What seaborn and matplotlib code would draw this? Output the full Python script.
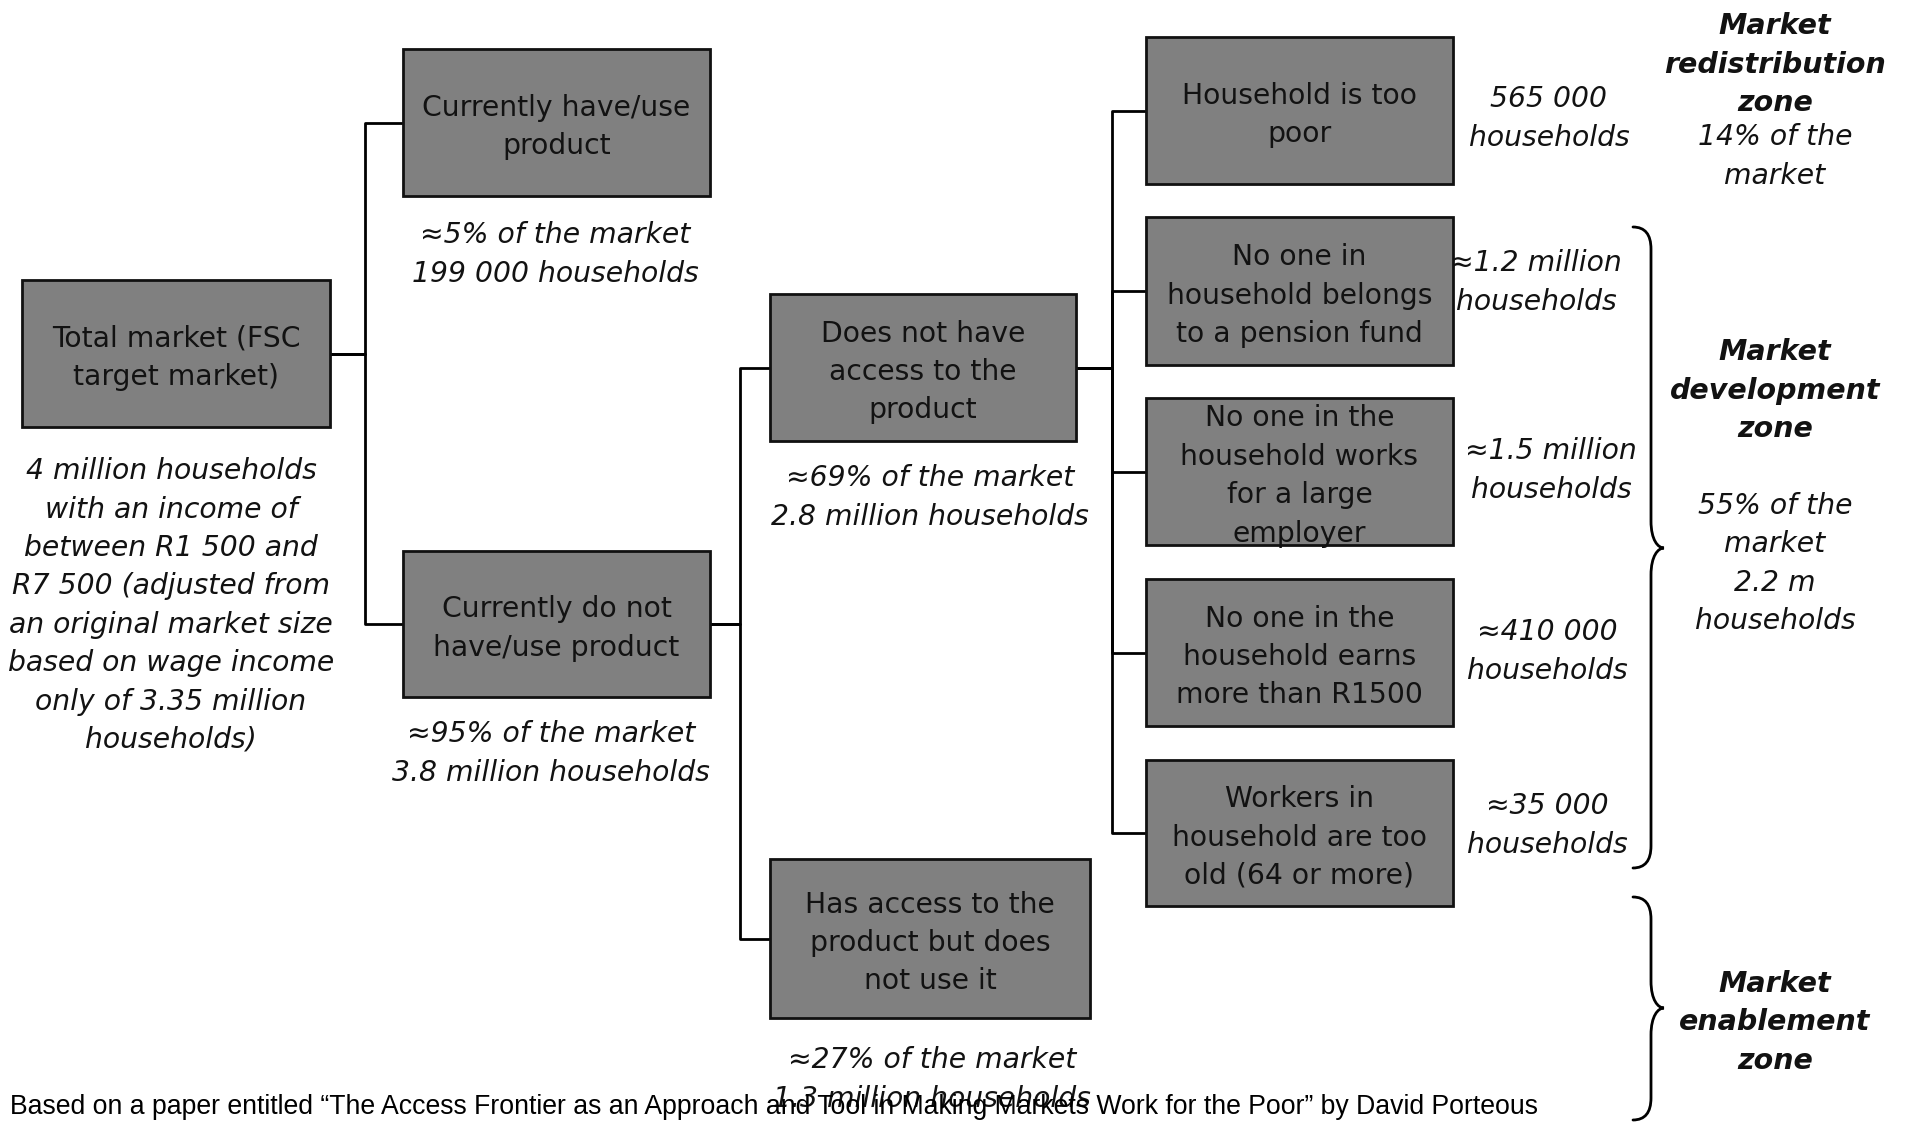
import matplotlib
matplotlib.use("Agg")
import matplotlib.pyplot as plt
from matplotlib.patches import Rectangle, PathPatch
from matplotlib.path import Path
import seaborn as sns
import pandas as pd

# ---------------- data (texts / values) ----------------
box_labels = [
    "Total market (FSC\ntarget market)",
    "Currently have/use\nproduct",
    "Currently do not\nhave/use product",
    "Does not have\naccess to the\nproduct",
    "Has access to the\nproduct but does\nnot use it",
    "Household is too\npoor",
    "No one in\nhousehold belongs\nto a pension fund",
    "No one in the\nhousehold works\nfor a large\nemployer",
    "No one in the\nhousehold earns\nmore than R1500",
    "Workers in\nhousehold are too\nold (64 or more)",
]
market_shares = ["", "≈5% of the market", "≈95% of the market",
                 "≈69% of the market", "≈27% of the market"]
household_counts = ["", "199 000 households", "3.8 million households",
                    "2.8 million households", "1.3 million households"]
root_caption = ("4 million households\nwith an income of\nbetween R1 500 and\n"
                "R7 500 (adjusted from\nan original market size\nbased on wage income\n"
                "only of 3.35 million\nhouseholds)")
reason_households = ["565 000\nhouseholds", "≈1.2 million\nhouseholds",
                     "≈1.5 million\nhouseholds", "≈410 000\nhouseholds",
                     "≈35 000\nhouseholds"]
zone_titles = ["Market\nredistribution\nzone", "Market\ndevelopment\nzone",
               "Market\nenablement\nzone"]
zone_shares = ["14% of the\nmarket", "55% of the\nmarket\n2.2 m\nhouseholds", ""]
footer = ("Based on a paper entitled \u201cThe Access Frontier as an Approach and Tool "
          "in Making Markets Work for the Poor\u201d by David Porteous")
# tree structure: parent index of each box
parents = [None, 0, 0, 2, 2, 3, 3, 3, 3, 3]

# ---------------- layout (pixel coordinates, y downwards) ----------------
box_xy = [  # x0, x1, y0, y1
    (22, 330, 280, 427),
    (403, 710, 49, 196),
    (403, 710, 551, 697),
    (770, 1076, 294, 441),
    (770, 1090, 859, 1018),
    (1146, 1453, 37, 184),
    (1146, 1453, 217, 365),
    (1146, 1453, 398, 545),
    (1146, 1453, 579, 726),
    (1146, 1453, 760, 906),
]
elbow_x = {0: 365, 2: 740, 3: 1112}
caption_pos = [None, (555, 250), (551, 749), (930, 493), (932, 1075)]
reason_pos = [(1549, 114), (1536, 278), (1551, 466), (1547, 647), (1547, 821)]
zone_title_pos = [(1775, 60), (1775, 386), (1775, 1018)]
zone_share_pos = [(1775, 152), (1775, 559), None]
PITCH = 38.4
DY = 4.5  # optical offset of text lines

sns.set_theme(style="white")
plt.rcParams["font.family"] = ["DejaVu Sans"]
TXT = "#121212"
FS = 20.3

fig = plt.figure(figsize=(19.07, 11.22), dpi=100)
ax = fig.add_axes([0, 0, 1, 1])


def lines_text(x, yc, text, pitch=PITCH, **kw):
    parts = text.split("\n")
    n = len(parts)
    for i, p in enumerate(parts):
        ax.text(x, yc + DY + (i - (n - 1) / 2) * pitch, p, ha="center",
                va="center", color=TXT, **kw)


# connectors via seaborn
segs = []
sid = 0
for child, par in enumerate(parents):
    if par is None:
        continue
    px0, px1, py0, py1 = box_xy[par]
    cx0, cx1, cy0, cy1 = box_xy[child]
    pyc = (py0 + py1) / 2
    cyc = (cy0 + cy1) / 2
    ex = elbow_x[par]
    for (x, y) in [(px1, pyc), (ex, pyc), (ex, cyc), (cx0, cyc)]:
        segs.append({"x": x, "y": y, "seg": sid})
    sid += 1
seg_df = pd.DataFrame(segs)
sns.lineplot(data=seg_df, x="x", y="y", units="seg", estimator=None, sort=False,
             color="black", lw=2, legend=False, ax=ax)
ax.set_xlim(0, 1907)
ax.set_ylim(1122, 0)
ax.axis("off")

# boxes
for (x0, x1, y0, y1), lab in zip(box_xy, box_labels):
    ax.add_patch(Rectangle((x0, y0), x1 - x0, y1 - y0, facecolor="#808080",
                           edgecolor="#111111", lw=2, zorder=3))
    lines_text((x0 + x1) / 2, (y0 + y1) / 2, lab, fontsize=FS, zorder=4)

# captions
lines_text(171, 601, root_caption, fontsize=FS, style="italic")
for i in range(1, 5):
    x, y = caption_pos[i]
    lines_text(x, y, market_shares[i] + "\n" + household_counts[i],
               fontsize=FS, style="italic")
for (x, y), t in zip(reason_pos, reason_households):
    lines_text(x, y, t, fontsize=FS, style="italic")
for (x, y), t in zip(zone_title_pos, zone_titles):
    lines_text(x, y, t, fontsize=20.5, style="italic", weight="bold")
for pos, t in zip(zone_share_pos, zone_shares):
    if pos is not None:
        lines_text(pos[0], pos[1], t, fontsize=FS, style="italic")


# braces
def brace(x0, xv, xt, ytop, ytip, ybot):
    r = 22
    verts = [(x0, ytop), (xv, ytop), (xv, ytop + r),
             (xv, ytip - r - 5),
             (xv, ytip - 8), (xt - 6, ytip), (xt, ytip),
             (xt - 6, ytip), (xv, ytip + 8), (xv, ytip + r + 5),
             (xv, ybot - r),
             (xv, ybot), (x0, ybot)]
    codes = [Path.MOVETO, Path.CURVE3, Path.CURVE3,
             Path.LINETO,
             Path.CURVE4, Path.CURVE4, Path.CURVE4,
             Path.CURVE4, Path.CURVE4, Path.CURVE4,
             Path.LINETO,
             Path.CURVE3, Path.CURVE3]
    ax.add_patch(PathPatch(Path(verts, codes), fill=False,
                           edgecolor="black", lw=2, capstyle="round"))


brace(1633, 1651, 1664, 227, 548, 868)
brace(1633, 1651, 1664, 897, 1008, 1120)

# footer
ax.text(10, 1114, footer, ha="left", va="baseline", fontsize=19.2,
        family="Liberation Sans", color="black", zorder=5)

fig.savefig("out.png", dpi=100)
